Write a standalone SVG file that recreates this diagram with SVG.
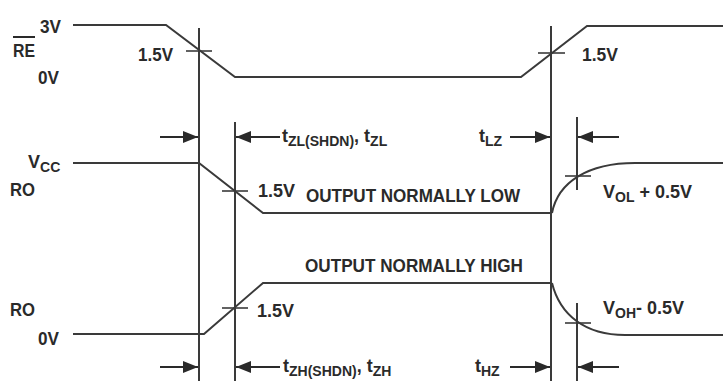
<svg xmlns="http://www.w3.org/2000/svg" width="723" height="381" viewBox="0 0 723 381">
<style>
.sig{fill:none;stroke:#3a3a3a;stroke-width:2}
.ref{fill:none;stroke:#3a3a3a;stroke-width:2}
.tick{fill:none;stroke:#3a3a3a;stroke-width:1.6}
.arr{fill:none;stroke:#2a2a2a;stroke-width:2}
text{font-family:"Liberation Sans",Arial,sans-serif;font-weight:bold;font-size:19px;fill:#2a2a2a}
.sub{font-size:14px}
.m{font-size:18px}
</style>
<defs>
<marker id="ah" viewBox="0 0 15 12" refX="15" refY="6" markerWidth="15" markerHeight="12" markerUnits="userSpaceOnUse" orient="auto" preserveAspectRatio="none">
<path d="M0,0 L15,6 L0,12 Z" fill="#2a2a2a"/>
</marker>
</defs>
<rect width="723" height="381" fill="#fff"/>
<g id="connectors">
<line class="ref" x1="199" y1="28" x2="199" y2="381"/>
<line class="ref" x1="235" y1="122" x2="235" y2="381"/>
<line class="ref" x1="551" y1="26" x2="551" y2="381"/>
<line class="ref" x1="577" y1="117" x2="577" y2="190"/>
<line class="ref" x1="577" y1="303" x2="577" y2="381"/>
<line class="arr" x1="160" y1="137" x2="198" y2="137" marker-end="url(#ah)"/>
<line class="arr" x1="280" y1="137" x2="236" y2="137" marker-end="url(#ah)"/>
<line class="arr" x1="510" y1="137" x2="550" y2="137" marker-end="url(#ah)"/>
<line class="arr" x1="619" y1="137" x2="578" y2="137" marker-end="url(#ah)"/>
<line class="arr" x1="160" y1="367" x2="198" y2="367" marker-end="url(#ah)"/>
<line class="arr" x1="280" y1="367" x2="236" y2="367" marker-end="url(#ah)"/>
<line class="arr" x1="510" y1="367" x2="550" y2="367" marker-end="url(#ah)"/>
<line class="arr" x1="619" y1="367" x2="578" y2="367" marker-end="url(#ah)"/>
</g>
<g id="re-signal">
<polyline class="sig" points="73,25 166,25 235,77 521,77 587,26 723,26"/>
<line class="tick" x1="186" y1="51" x2="212" y2="51"/>
<line class="tick" x1="538" y1="53" x2="565" y2="53"/>
<text x="40" y="33" textLength="21" lengthAdjust="spacingAndGlyphs">3V</text>
<text x="13" y="57" textLength="22" lengthAdjust="spacingAndGlyphs">RE</text>
<line x1="13" y1="37" x2="35" y2="37" stroke="#2a2a2a" stroke-width="2"/>
<text x="38" y="84" textLength="21" lengthAdjust="spacingAndGlyphs">0V</text>
<text x="138" y="61" textLength="35" lengthAdjust="spacingAndGlyphs">1.5V</text>
<text x="582" y="61" textLength="36" lengthAdjust="spacingAndGlyphs">1.5V</text>
</g>
<g id="ro-low">
<polyline class="sig" points="73,163 199,163 263,213 552,213"/>
<path class="sig" d="M552,213 C558,182 588,163 635,163 L723,163"/>
<line class="tick" x1="222" y1="191" x2="248" y2="191"/>
<line class="tick" x1="565" y1="176" x2="591" y2="176"/>
<text x="28" y="168" class="m">V<tspan class="sub" dy="4">CC</tspan></text>
<text x="10" y="196" textLength="25" lengthAdjust="spacingAndGlyphs">RO</text>
<text x="258" y="197" textLength="37" lengthAdjust="spacingAndGlyphs">1.5V</text>
<text x="306" y="202" textLength="214" lengthAdjust="spacingAndGlyphs">OUTPUT NORMALLY LOW</text>
<text x="603" y="198" class="m">V<tspan class="sub" dy="4">OL</tspan><tspan dy="-4"> + 0.5V</tspan></text>
<text x="282" y="142" class="m">t<tspan class="sub" dy="4">ZL(SHDN)</tspan><tspan dy="-4">, t</tspan><tspan class="sub" dy="4">ZL</tspan></text>
<text x="479" y="142" class="m">t<tspan class="sub" dy="4">LZ</tspan></text>
</g>
<g id="ro-high">
<polyline class="sig" points="73,334 204,334 263,283 552,283"/>
<path class="sig" d="M552,283 C560,315 585,335 625,335 L723,335"/>
<line class="tick" x1="222" y1="308" x2="248" y2="308"/>
<line class="tick" x1="565" y1="323" x2="591" y2="323"/>
<text x="10" y="316" textLength="25" lengthAdjust="spacingAndGlyphs">RO</text>
<text x="38" y="345" textLength="21" lengthAdjust="spacingAndGlyphs">0V</text>
<text x="257" y="317" textLength="37" lengthAdjust="spacingAndGlyphs">1.5V</text>
<text x="305" y="272" textLength="218" lengthAdjust="spacingAndGlyphs">OUTPUT NORMALLY HIGH</text>
<text x="603" y="314" class="m">V<tspan class="sub" dy="4">OH</tspan><tspan dy="-4">- 0.5V</tspan></text>
<text x="283" y="372" class="m">t<tspan class="sub" dy="4">ZH(SHDN)</tspan><tspan dy="-4">, t</tspan><tspan class="sub" dy="4">ZH</tspan></text>
<text x="475" y="372" class="m">t<tspan class="sub" dy="4">HZ</tspan></text>
</g>
</svg>
